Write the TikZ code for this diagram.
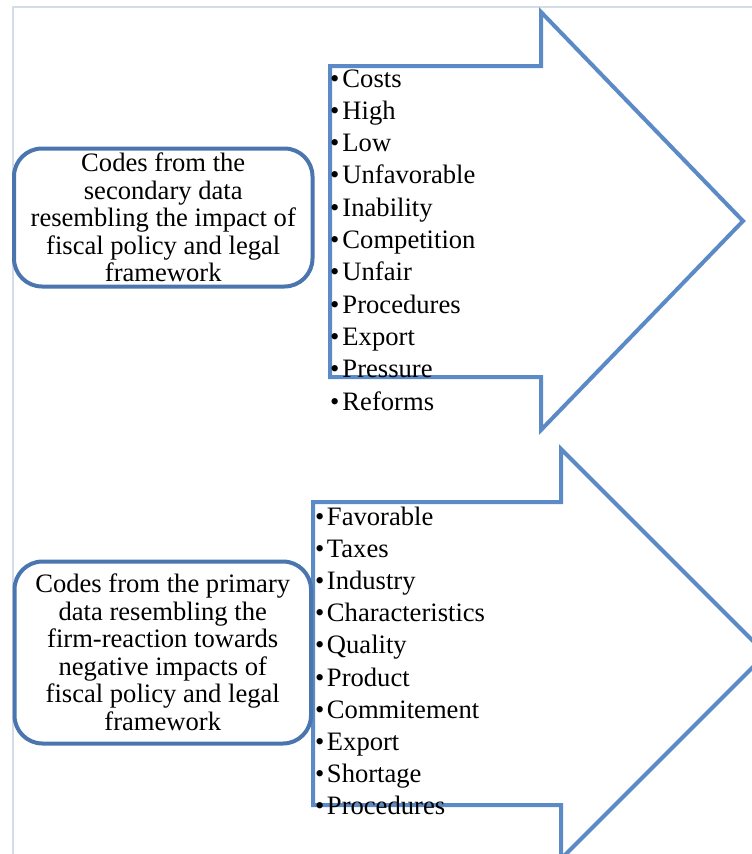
\documentclass[tikz,border=0pt]{standalone}
\usepackage{fontspec}
\setmainfont{Liberation Serif}

\definecolor{arrowblue}{RGB}{91,138,198}
\definecolor{boxblue}{RGB}{74,117,174}
\definecolor{framegray}{RGB}{212,220,234}

\begin{document}
\begin{tikzpicture}[x=1pt,y=-1pt,
  codebox/.style={draw=boxblue,line width=4pt,rounded corners=28pt,align=center,inner sep=0pt,font=\fontsize{26.6}{27.5}\selectfont},
  bigarrow/.style={draw=arrowblue,line width=4pt,line join=miter},
  item/.style={anchor=base west,inner sep=0pt,font=\fontsize{26.6}{32}\selectfont}]

\useasboundingbox (0,0) rectangle (752,854);
\clip (0,0) rectangle (752,854);

% page frame
\draw[framegray,line width=2pt] (13,854) -- (13,7) -- (752,7);

% the two big arrows
\draw[bigarrow] (330,66) -- (541,66) -- (541,12) -- (743,221) -- (541,430) -- (541,377) -- (330,377) -- cycle;
\draw[bigarrow] (313,502) -- (561,502) -- (561,449) -- (766,654) -- (561,859) -- (561,805) -- (313,805) -- cycle;

% code boxes
\node[codebox,minimum width=298.5pt,minimum height=138pt] (secondary) at (163.25,217.5)
  {Codes from the\\ secondary data\\ resembling the impact of\\ fiscal policy and legal\\ framework};
\node[codebox,minimum width=296.5pt,minimum height=182pt] (primary) at (162.75,652.5)
  {Codes from the primary\\ data resembling the\\ firm-reaction towards\\ negative impacts of\\ fiscal policy and legal\\ framework};

% codes
\foreach \w [count=\i] in {Costs,High,Low,Unfavorable,Inability,Competition,Unfair,Procedures,Export,Pressure,Reforms}
  \node[item] (s\i) at (330,87+32.3*\i-32.3) {\textbullet\hspace{3pt}\w};
\foreach \w [count=\i] in {Favorable,Taxes,Industry,Characteristics,Quality,Product,Commitement,Export,Shortage,Procedures}
  \node[item] (p\i) at (315,525+32.2*\i-32.2) {\textbullet\hspace{2.5pt}\w};

\end{tikzpicture}
\end{document}
